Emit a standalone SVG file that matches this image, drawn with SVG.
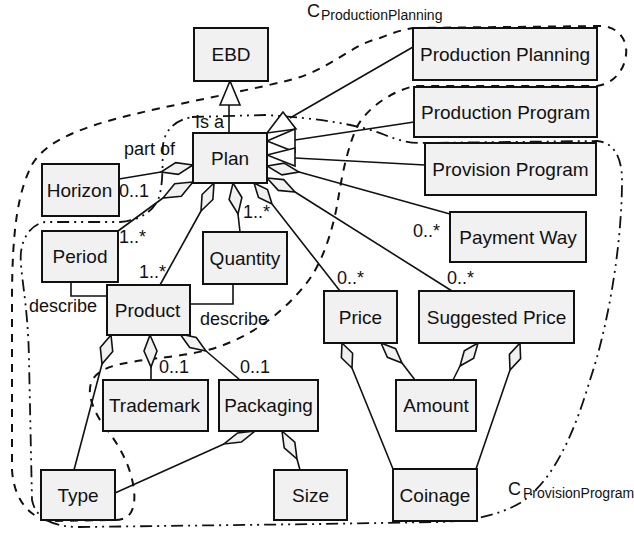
<svg xmlns="http://www.w3.org/2000/svg" width="634" height="533" viewBox="0 0 634 533">
<style>
.box rect{fill:#f1f1f1;stroke:#111;stroke-width:2}
.box text{font-family:"Liberation Sans",Arial,sans-serif;font-size:19px;text-anchor:middle;fill:#111}
.lbl{font-family:"Liberation Sans",Arial,sans-serif;font-size:18px;fill:#111}
.sub{font-family:"Liberation Sans",Arial,sans-serif;font-size:14px;fill:#111}
#connectors line{stroke:#111;stroke-width:1.6;fill:none}
#connectors polyline{stroke:#111;stroke-width:1.6;fill:none}
.dia{fill:#f1f1f1;stroke:#111;stroke-width:1.6}
.tri{fill:#fff;stroke:#111;stroke-width:1.6}
.cpp{fill:none;stroke:#111;stroke-width:2;stroke-dasharray:8 7}
.cpv{fill:none;stroke:#111;stroke-width:1.8;stroke-dasharray:12 5 2 5 2 5}
</style>
<rect width="634" height="533" fill="#fff"/>

<g id="regions">
<path class="cpp" d="M413,28 L600,26 C618,26 628,40 626,55 C624,72 612,84 597,86 L415,86 C395,90 370,105 358,125 C348,145 342,175 338,200 C333,230 322,265 305,285 C285,310 255,335 215,348 C175,360 120,358 100,372 C85,382 88,400 100,420 C115,440 130,460 134,490 C136,510 130,520 115,520 L50,521 C30,518 14,500 12,470 L12,300 C12,230 18,190 33,163 C45,145 65,135 95,125 C140,110 230,95 290,80 C330,70 350,45 380,38 C395,32 405,29 413,28 Z"/>
<path class="cpv" d="M192,117 L265,115 C320,118 360,125 385,135 C398,140 408,143 420,143 L597,141 C612,142 622,155 622,180 C622,240 610,320 590,380 C575,430 555,480 520,503 C500,515 470,521 440,522 L320,524 L80,527 C55,527 36,520 32,500 L29,360 C28,300 19,270 21,252 C23,236 32,224 45,222 L120,222 C140,220 152,212 158,200 C164,185 162,160 163,145 C165,130 175,120 192,117 Z"/>
<text class="lbl" x="307" y="17">C</text><text class="sub" x="321" y="20">ProductionPlanning</text>
<text class="lbl" x="508" y="495">C</text><text class="sub" x="523" y="498">ProvisionProgram</text>
</g>

<g id="connectors">
<!-- EBD generalization -->
<line x1="229" y1="105" x2="229" y2="133"/>
<polygon class="tri" points="230,81 220,105 240,105"/>
<!-- Production Planning / Program / Provision generalizations -->
<line x1="413" y1="47" x2="290" y2="118"/>
<line x1="414" y1="122" x2="295" y2="140"/>
<line x1="425" y1="165" x2="295" y2="158"/>
<polygon class="tri" points="283,112 267,133 296,129"/>
<polygon class="tri" points="267,141 295,129 295,152"/>
<polygon class="tri" points="267,155 295,148 295,166"/>
<!-- Payment Way -->
<line x1="299" y1="172" x2="450" y2="214"/>
<polygon class="dia" points="267,166 284.1,163.1 299,172 281.9,174.9"/>
<!-- Suggested Price -->
<line x1="295" y1="192" x2="452" y2="291"/>
<polygon class="dia" points="267,178 283.7,179.6 295,192 278.3,190.4"/>
<!-- Price -->
<line x1="272" y1="204" x2="340" y2="291"/>
<polygon class="dia" points="254,183 267.5,189.6 272,204 258.5,197.4"/>
<!-- Horizon part of -->
<line x1="161" y1="172" x2="119" y2="179"/>
<polygon class="dia" points="193,165 175.7,162.6 161,172 178.3,174.4"/>
<!-- Period -->
<line x1="163" y1="198" x2="118" y2="231"/>
<polygon class="dia" points="193,182 174.7,183.8 163,198 181.3,196.2"/>
<!-- Product -->
<line x1="201" y1="211" x2="160" y2="285"/>
<polygon class="dia" points="214,183 212.9,199.5 201,211 202.1,194.5"/>
<!-- Quantity -->
<line x1="238" y1="214" x2="240" y2="232"/>
<polygon class="dia" points="233,183 241.9,197.5 238,214 229.1,199.5"/>
<!-- describe links -->
<polyline points="71,282 71,296 107,296"/>
<polyline points="233,284 233,304 190,304"/>
<!-- Product parts -->
<line x1="102" y1="364" x2="74" y2="470"/>
<polygon class="dia" points="111,335 112.7,351.4 102,364 100.3,347.6"/>
<line x1="151" y1="367" x2="151" y2="380"/>
<polygon class="dia" points="150,335 157,351 151,367 144,351"/>
<line x1="206" y1="351" x2="240" y2="380"/>
<polygon class="dia" points="180,334 196.3,337.5 206,351 189.7,347.5"/>
<!-- Packaging parts -->
<line x1="224" y1="444" x2="115" y2="493"/>
<polygon class="dia" points="255,431 237.6,432.9 224,444 241.4,442.1"/>
<line x1="297" y1="459" x2="300" y2="470"/>
<polygon class="dia" points="282,431 294.8,442.2 297,459 284.2,447.8"/>
<!-- Price parts -->
<line x1="352" y1="368" x2="393" y2="469"/>
<polygon class="dia" points="342,343 352.6,353.3 352,368 341.4,357.7"/>
<line x1="402" y1="363" x2="415" y2="380"/>
<polygon class="dia" points="381,343 395.6,348.7 402,363 387.4,357.3"/>
<line x1="460" y1="366" x2="453" y2="380"/>
<polygon class="dia" points="478,343 473.7,358.2 460,366 464.3,350.8"/>
<line x1="510" y1="370" x2="476" y2="469"/>
<polygon class="dia" points="520,343 520.6,358.6 510,370 509.4,354.4"/>
</g>

<g id="labels">
<text class="lbl" x="195" y="128">Is a</text>
<text class="lbl" x="124" y="155">part of</text>
<text class="lbl" x="119" y="197">0..1</text>
<text class="lbl" x="119" y="243">1..*</text>
<text class="lbl" x="139" y="278">1..*</text>
<text class="lbl" x="243" y="218">1..*</text>
<text class="lbl" x="413" y="237">0..*</text>
<text class="lbl" x="337" y="284">0..*</text>
<text class="lbl" x="447" y="284">0..*</text>
<text class="lbl" x="29" y="312">describe</text>
<text class="lbl" x="200" y="325">describe</text>
<text class="lbl" x="159" y="373">0..1</text>
<text class="lbl" x="240" y="373">0..1</text>
</g>

<g id="EBD" class="box"><rect x="194" y="28" width="74" height="53"/><text x="231" y="61">EBD</text></g>
<g id="ProductionPlanning" class="box"><rect x="413" y="28" width="184" height="52"/><text x="505" y="60.5">Production Planning</text></g>
<g id="ProductionProgram" class="box"><rect x="414" y="87" width="183" height="50"/><text x="505.5" y="118.5">Production Program</text></g>
<g id="ProvisionProgram" class="box"><rect x="425" y="143" width="171" height="52"/><text x="510.5" y="175.5">Provision Program</text></g>
<g id="Plan" class="box"><rect x="193" y="133" width="74" height="50"/><text x="230" y="164.5">Plan</text></g>
<g id="Horizon" class="box"><rect x="42" y="164" width="77" height="52"/><text x="79.5" y="196.5">Horizon</text></g>
<g id="Period" class="box"><rect x="42" y="231" width="76" height="51"/><text x="80" y="263">Period</text></g>
<g id="Quantity" class="box"><rect x="203" y="232" width="84" height="52"/><text x="245" y="264.5">Quantity</text></g>
<g id="PaymentWay" class="box"><rect x="450" y="212" width="136" height="50"/><text x="518" y="243.5">Payment Way</text></g>
<g id="Product" class="box"><rect x="107" y="285" width="83" height="50"/><text x="147.5" y="316.5">Product</text></g>
<g id="Price" class="box"><rect x="324" y="291" width="73" height="52"/><text x="360.5" y="323.5">Price</text></g>
<g id="SuggestedPrice" class="box"><rect x="419" y="291" width="155" height="52"/><text x="496.5" y="323.5">Suggested Price</text></g>
<g id="Trademark" class="box"><rect x="103" y="380" width="105" height="51"/><text x="154.5" y="412">Trademark</text></g>
<g id="Packaging" class="box"><rect x="219" y="380" width="99" height="51"/><text x="268.5" y="412">Packaging</text></g>
<g id="Amount" class="box"><rect x="396" y="380" width="80" height="51"/><text x="436" y="412">Amount</text></g>
<g id="Type" class="box"><rect x="41" y="470" width="74" height="50"/><text x="78" y="501.5">Type</text></g>
<g id="Size" class="box"><rect x="274" y="470" width="73" height="50"/><text x="310.5" y="501.5">Size</text></g>
<g id="Coinage" class="box"><rect x="393" y="469" width="84" height="52"/><text x="435" y="501.5">Coinage</text></g>
</svg>
